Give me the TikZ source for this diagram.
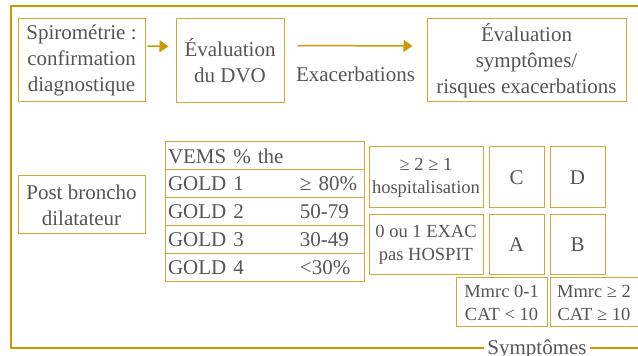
\documentclass[tikz,border=0pt]{standalone}
\usepackage{fontspec}
\setmainfont{Liberation Serif}
\usetikzlibrary{arrows.meta,positioning,calc}
\definecolor{goldframe}{HTML}{CC9900}
\definecolor{goldbox}{HTML}{D6A636}
\definecolor{textgrey}{HTML}{555555}
\tikzset{
  stagebox/.style={rectangle, draw=goldbox, line width=1pt, align=center, text=textgrey, font=\fontsize{21}{26}\selectfont, inner sep=2pt},
  gridcell/.style={stagebox, font=\fontsize{18.5}{23}\selectfont},
  goldrow/.style={rectangle, draw=goldbox, line width=1pt, text=textgrey, font=\fontsize{21}{24}\selectfont, minimum height=28pt, text width=193pt, inner xsep=3pt, inner ysep=0pt, align=left},
  flow/.style={draw=goldframe, line width=1.5pt, -{Triangle[length=9pt,width=12pt]}},
  frameline/.style={draw=goldframe, line width=2.5pt},
}

\begin{document}
\begin{tikzpicture}[x=1pt, y=1pt, node distance=30pt]
  \useasboundingbox (0,0) rectangle (638,356);
  % frame corners
  \coordinate (frameTR) at (642,350);
  \coordinate (frameTL) at (11,350);
  \coordinate (frameBL) at (11,8);
  \coordinate (frameBR) at (642,8);
  % top row
  \node[stagebox, minimum width=127pt, minimum height=83pt] (spiro) at (81.5,295.5) {Spirométrie :\\confirmation\\diagnostique};
  \node[stagebox, minimum width=108pt, minimum height=84pt, right=30pt of spiro] (dvo) {Évaluation\\du DVO};
  \node[stagebox, minimum width=199pt, minimum height=83pt, right=142pt of dvo] (evalsym) {Évaluation\\symptômes/\\risques exacerbations};
  \draw[flow, shorten <=2pt, shorten >=7pt] ([yshift=14.5pt]spiro.east) -- ([yshift=14pt]dvo.west);
  \draw[flow, shorten <=13pt, shorten >=14pt] ([yshift=15pt]dvo.east) -- node[below=17pt, text=textgrey, font=\fontsize{21}{24}\selectfont]{Exacerbations} ([yshift=14.5pt]evalsym.west);
  % spirometry classes
  \node[stagebox, minimum width=127pt, minimum height=58pt] (post) at (81.5,151) {Post broncho\\dilatateur};
  \node[goldrow] (vems) at (264.5,200) {VEMS \% the};
  \node[goldrow, below=-1pt of vems] (gold1) {\makebox[132pt][l]{GOLD 1}≥ 80\%};
  \node[goldrow, below=-1pt of gold1] (gold2) {\makebox[132pt][l]{GOLD 2}50-79};
  \node[goldrow, below=-1pt of gold2] (gold3) {\makebox[132pt][l]{GOLD 3}30-49};
  \node[goldrow, below=-1pt of gold3] (gold4) {\makebox[132pt][l]{GOLD 4}<30\%};
  % ABCD grid
  \node[gridcell, minimum width=114pt, minimum height=61pt] (hosp) at (426,178.5) {≥ 2 ≥ 1\\hospitalisation};
  \node[stagebox, minimum width=55pt, minimum height=61pt, right=5pt of hosp] (grpC) {C};
  \node[stagebox, minimum width=55pt, minimum height=61pt, right=5pt of grpC] (grpD) {D};
  \node[gridcell, minimum width=114pt, minimum height=60pt, below=6pt of hosp] (exac) {0 ou 1 EXAC\\pas HOSPIT};
  \node[stagebox, minimum width=55pt, minimum height=60pt, below=6pt of grpC] (grpA) {A};
  \node[stagebox, minimum width=55pt, minimum height=60pt, below=6pt of grpD] (grpB) {B};
  \node[gridcell, minimum width=91pt, minimum height=49pt] (mmrcLow) at (501.5,53.5) {Mmrc 0-1\\CAT < 10};
  \node[gridcell, minimum width=88pt, minimum height=49pt, right=2pt of mmrcLow] (mmrcHigh) {Mmrc ≥ 2\\CAT ≥ 10};
  % outer frame
  \node[anchor=base, text=textgrey, font=\fontsize{21}{24}\selectfont] (symlabel) at (537,1) {Symptômes};
  \draw[frameline] (frameTR) -- (frameTL) -- (frameBL) -- (symlabel.west |- frameBL);
  \draw[frameline] (symlabel.east |- frameBR) -- (frameBR);
\end{tikzpicture}
\end{document}
